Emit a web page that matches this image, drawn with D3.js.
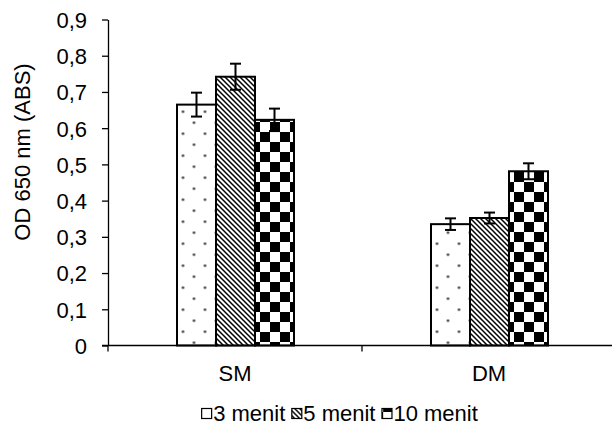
<!DOCTYPE html>
<html><head><meta charset="utf-8">
<script src="https://cdn.jsdelivr.net/npm/d3@7"></script>
<style>
html,body{margin:0;padding:0;background:#fff;}
text{font-family:"Liberation Sans",Arial,sans-serif;fill:#000;}
</style></head>
<body>
<svg id="chart" width="612" height="426"></svg>
<script>
const categories = ["SM", "DM"];
const seriesNames = ["3 menit", "5 menit", "10 menit"];
const values3 = [0.665, 0.335];
const values5 = [0.742, 0.352];
const values10 = [0.623, 0.481];
const err3 = [0.033, 0.016];
const err5 = [0.036, 0.015];
const err10 = [0.031, 0.022];
const yTicks = [0, 0.1, 0.2, 0.3, 0.4, 0.5, 0.6, 0.7, 0.8, 0.9];
const yTitle = "OD 650 nm (ABS)";

const seriesValues = [values3, values5, values10];
const seriesErr = [err3, err5, err10];
const patternIds = ["pDots", "pDiag", "pCheck"];

const svg = d3.select("#chart");
const defs = svg.append("defs");

// dots pattern
const pd = defs.append("pattern").attr("id", "pDots").attr("patternUnits", "userSpaceOnUse")
  .attr("width", 22).attr("height", 22).attr("x", 185 - 5.5).attr("y", 111.7 - 5.5);
pd.append("rect").attr("width", 22).attr("height", 22).attr("fill", "#fff");
pd.append("circle").attr("cx", 5.5).attr("cy", 5.5).attr("r", 1.3).attr("fill", "#333");
pd.append("circle").attr("cx", 16.5).attr("cy", 16.5).attr("r", 1.3).attr("fill", "#333");

// diagonal pattern
const pg = defs.append("pattern").attr("id", "pDiag").attr("patternUnits", "userSpaceOnUse")
  .attr("width", 5).attr("height", 5);
pg.append("rect").attr("width", 5).attr("height", 5).attr("fill", "#fff");
pg.append("path").attr("d", "M-1,-1L6,6M-1,4L1,6M4,-1L6,1")
  .attr("stroke", "#000").attr("stroke-width", 1.5);

// checker pattern
const pc = defs.append("pattern").attr("id", "pCheck").attr("patternUnits", "userSpaceOnUse")
  .attr("width", 20).attr("height", 20).attr("x", 262).attr("y", 122);
pc.append("rect").attr("width", 20).attr("height", 20).attr("fill", "#fff");
pc.append("rect").attr("width", 10).attr("height", 10).attr("fill", "#000");
pc.append("rect").attr("x", 10).attr("y", 10).attr("width", 10).attr("height", 10).attr("fill", "#000");

const x0 = d3.scaleBand().domain(categories).range([108, 616]).padding(0);
const x1 = d3.scaleBand().domain(seriesNames).range([69, 186]).padding(0);
const y = d3.scaleLinear().domain([0, 0.9]).range([345.5, 19.5]);

const fmt = d => d === 0 ? "0" : d3.format(".1f")(d).replace(".", ",");

// y axis
const yAxis = svg.append("g").attr("transform", "translate(108,0)")
  .call(d3.axisLeft(y).tickValues(yTicks).tickFormat(fmt).tickSize(6).tickSizeOuter(0));
yAxis.select(".domain").attr("stroke", "#000").attr("stroke-width", 1.3);
yAxis.selectAll(".tick line").attr("stroke", "#000").attr("stroke-width", 1.3);
yAxis.selectAll(".tick text").attr("font-size", 22).attr("x", -21).attr("dy", "0.36em")
  .style("font-family", "Liberation Sans, Arial, sans-serif").attr("fill", "#000");

// bars
const groups = svg.append("g").selectAll("g").data(categories).join("g")
  .attr("transform", d => `translate(${x0(d)},0)`);

seriesNames.forEach((s, si) => {
  groups.append("rect")
    .attr("x", x1(s))
    .attr("y", (d, i) => y(seriesValues[si][i]))
    .attr("width", x1.bandwidth())
    .attr("height", (d, i) => y(0) - y(seriesValues[si][i]))
    .attr("fill", `url(#${patternIds[si]})`)
    .attr("stroke", "#000").attr("stroke-width", 2);
});

// error bars
seriesNames.forEach((s, si) => {
  groups.each(function(d, i) {
    const g = d3.select(this);
    const cx = x1(s) + x1.bandwidth() / 2;
    const v = seriesValues[si][i], e = seriesErr[si][i];
    g.append("line").attr("x1", cx).attr("x2", cx).attr("y1", y(v + e)).attr("y2", y(v - e))
      .attr("stroke", "#000").attr("stroke-width", 2);
    [v + e, v - e].forEach(t => {
      g.append("line").attr("x1", cx - 5.5).attr("x2", cx + 5.5).attr("y1", y(t)).attr("y2", y(t))
        .attr("stroke", "#000").attr("stroke-width", 2);
    });
  });
});

// x axis
const xAxisG = svg.append("g").attr("transform", `translate(0,${y(0)})`);
xAxisG.append("line").attr("x1", 102).attr("x2", 616).attr("y1", 0).attr("y2", 0)
  .attr("stroke", "#000").attr("stroke-width", 1.3);
[108, 362, 616].forEach(t => {
  xAxisG.append("line").attr("x1", t).attr("x2", t).attr("y1", 0).attr("y2", 6)
    .attr("stroke", "#000").attr("stroke-width", 1.3);
});
xAxisG.selectAll("text.cat").data(categories).join("text").attr("class", "cat")
  .attr("x", d => x0(d) + x0.bandwidth() / 2).attr("y", 35.5)
  .attr("text-anchor", "middle").attr("font-size", 22).text(d => d);

// y title
svg.append("text").attr("transform", "translate(30,152) rotate(-90)")
  .attr("text-anchor", "middle").attr("font-size", 22).text(yTitle);

// legend
const legend = svg.append("g");
let lx = 0;
const items = [];
seriesNames.forEach((s, si) => {
  const g = legend.append("g");
  g.append("rect").attr("x", lx + 0.5).attr("y", 408.5).attr("width", 10).attr("height", 10)
    .attr("fill", `url(#${patternIds[si]})`).attr("stroke", "#000").attr("stroke-width", 1.2);
  const t = g.append("text").attr("x", lx + 12).attr("y", 421).attr("font-size", 22).text(s);
  lx += 12 + t.node().getComputedTextLength() + 6;
});
const totalW = lx - 6;
legend.attr("transform", `translate(${339.5 - totalW / 2},0)`);
</script>
</body></html>
